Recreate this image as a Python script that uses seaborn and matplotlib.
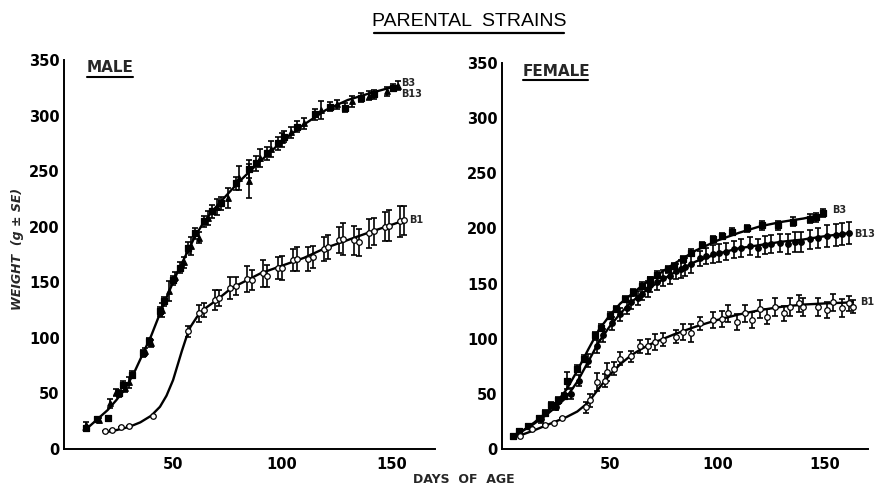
import numpy as np
import pandas as pd
import seaborn as sns
import matplotlib
matplotlib.use("Agg")
import matplotlib.pyplot as plt
from matplotlib.lines import Line2D

# ---------------- data ----------------
# MALE
male_b3_day = [10, 15, 20, 25, 27, 31, 36, 39, 44, 46, 50, 53, 57, 60, 64, 68, 72, 79, 85, 88, 93, 98, 101, 107, 115, 122, 129, 136, 142, 151]
male_b3_wt = [19, 27, 28, 50, 58, 67, 86, 97, 124, 133, 152, 163, 181, 194, 205, 214, 221, 239, 252, 257, 266, 275, 281, 290, 301, 308, 307, 316, 319, 325]
male_b3_se = [2, 2, 2, 3, 3, 3, 3, 3, 4, 4, 4, 5, 5, 5, 5, 6, 6, 6, 8, 7, 6, 6, 5, 5, 5, 4, 4, 4, 4, 3]

male_b13_day = [10, 16, 21, 24, 28, 30, 37, 40, 45, 48, 51, 55, 58, 62, 66, 70, 75, 80, 85, 90, 95, 100, 104, 110, 118, 125, 132, 140, 148, 153]
male_b13_wt = [22, 26, 41, 51, 55, 60, 88, 95, 125, 142, 155, 168, 183, 190, 208, 218, 226, 244, 241, 262, 270, 278, 285, 293, 305, 310, 313, 318, 322, 327]
male_b13_se = [2, 2, 4, 3, 4, 5, 3, 3, 6, 9, 4, 5, 8, 5, 6, 7, 9, 11, 15, 8, 7, 6, 5, 5, 8, 4, 5, 4, 4, 4]

male_b1_day = [19, 22, 26, 30, 41, 57, 62, 64, 69, 71, 76, 79, 84, 86, 91, 93, 98, 100, 105, 107, 112, 114, 119, 121, 126, 128, 133, 135, 140, 142, 147, 149, 154, 156]
male_b1_wt = [16, 17, 20, 21, 30, 106, 122, 125, 134, 136, 145, 147, 153, 152, 158, 156, 163, 163, 170, 171, 171, 173, 180, 182, 188, 189, 188, 186, 194, 196, 200, 201, 205, 206]
male_b1_se = [0, 0, 0, 0, 0, 5, 8, 6, 9, 7, 10, 8, 12, 9, 12, 10, 10, 11, 10, 11, 11, 10, 11, 11, 12, 14, 13, 12, 13, 12, 13, 14, 14, 13]

male_fit_b3_day = [9, 12, 16, 20, 24, 28, 32, 36, 40, 44, 48, 52, 56, 60, 64, 68, 72, 80, 90, 100, 110, 120, 130, 140, 153]
male_fit_b3_wt = [17, 21, 28, 35, 44, 54, 68, 85, 102, 122, 141, 159, 175, 191, 204, 214, 223, 240, 259, 277, 292, 305, 314, 320, 327]
male_fit_b1_day = [19, 24, 30, 35, 40, 44, 47, 50, 52, 54, 56, 58, 61, 65, 70, 75, 80, 90, 100, 110, 120, 130, 140, 155]
male_fit_b1_wt = [15, 17, 20, 24, 30, 38, 48, 62, 75, 88, 100, 110, 119, 127, 134, 142, 148, 158, 165, 172, 181, 188, 195, 205]

# FEMALE
fem_b3_day = [5, 8, 12, 17, 20, 23, 26, 29, 30, 35, 38, 43, 46, 50, 53, 57, 61, 65, 69, 72, 77, 80, 84, 88, 93, 98, 102, 107, 114, 121, 128, 135, 143, 146, 149]
fem_b3_wt = [12, 16, 21, 28, 33, 40, 44, 48, 62, 73, 82, 103, 110, 121, 127, 136, 142, 148, 153, 158, 163, 166, 172, 178, 185, 190, 193, 197, 200, 203, 203, 206, 209, 210, 214]
fem_b3_se = [2, 2, 2, 2, 2, 3, 3, 3, 8, 3, 3, 3, 3, 3, 3, 3, 3, 3, 3, 3, 3, 3, 3, 3, 3, 3, 3, 3, 3, 4, 4, 4, 4, 4, 4]

fem_b13_day = [8, 13, 18, 25, 32, 36, 40, 44, 47, 51, 55, 58, 60, 63, 65, 68, 69, 72, 75, 78, 81, 83, 85, 88, 92, 95, 98, 101, 104, 108, 111, 115, 119, 122, 125, 129, 133, 136, 139, 143, 147, 151, 155, 158, 161]
fem_b13_wt = [14, 20, 27, 38, 50, 62, 80, 93, 103, 114, 122, 128, 133, 137, 141, 145, 149, 151, 155, 157, 161, 163, 165, 168, 173, 175, 177, 178, 179, 181, 182, 184, 182, 185, 186, 187, 186, 188, 188, 190, 191, 193, 194, 195, 196]
fem_b13_se = [2, 2, 3, 3, 5, 5, 6, 6, 6, 6, 6, 6, 6, 6, 6, 7, 7, 7, 7, 7, 7, 8, 8, 8, 7, 7, 8, 8, 8, 8, 8, 8, 8, 8, 8, 8, 9, 9, 9, 9, 9, 10, 10, 10, 10]

fem_b1_day = [8.5, 14, 20, 24, 28, 39, 41, 44, 48, 49, 52, 55, 60, 64, 68, 71, 75, 81, 84, 88, 92, 98, 102, 105, 109, 113, 116, 120, 123, 127, 131, 134, 138, 140, 147, 151, 154, 158, 161, 163]
fem_b1_wt = [12, 18, 22, 24, 28, 38, 44, 61, 62, 70, 73, 82, 84, 93, 93, 97, 99, 102, 106, 105, 114, 117, 118, 123, 115, 123, 117, 127, 120, 129, 123, 129, 132, 129, 129, 126, 133, 128, 132, 129]
fem_b1_se = [0, 0, 0, 0, 0, 5, 6, 8, 6, 8, 6, 6, 5, 6, 7, 7, 6, 6, 7, 8, 6, 7, 7, 8, 7, 8, 7, 8, 7, 8, 7, 8, 8, 8, 8, 7, 8, 8, 7, 6]

fem_fit_b3_day = [5, 10, 15, 20, 25, 30, 35, 40, 45, 50, 55, 60, 65, 70, 80, 90, 100, 110, 120, 130, 140, 150]
fem_fit_b3_wt = [11, 17, 24, 32, 41, 54, 71, 90, 108, 121, 132, 140, 148, 155, 168, 180, 189, 196, 202, 206, 209, 213]
fem_fit_b13_day = [5, 10, 15, 20, 25, 30, 35, 40, 45, 50, 55, 60, 65, 70, 80, 90, 100, 110, 120, 130, 140, 150, 162]
fem_fit_b13_wt = [12, 17, 23, 30, 38, 47, 61, 79, 97, 111, 123, 133, 141, 148, 160, 170, 177, 182, 185, 188, 190, 193, 196]
fem_fit_b1_day = [8, 15, 20, 25, 30, 35, 40, 45, 50, 55, 60, 65, 70, 80, 90, 100, 110, 120, 130, 140, 150, 163]
fem_fit_b1_wt = [12, 17, 21, 25, 29, 34, 42, 55, 67, 77, 85, 91, 96, 104, 111, 117, 122, 126, 129, 131, 132, 133]

y_ticks = [0, 50, 100, 150, 200, 250, 300, 350]
x_ticks = [50, 100, 150]

# ---------------- style ----------------
sns.set_style("white")
plt.rcParams["font.family"] = ["DejaVu Sans"]
plt.rcParams["font.weight"] = "bold"

fig = plt.figure(figsize=(8.76, 4.86), dpi=100)
axL = fig.add_axes([0.0730, 0.0761, 0.4235, 0.8004])
axR = fig.add_axes([0.5730, 0.0761, 0.4178, 0.7942])

def series(ax, day, wt, se, marker, filled):
    df = pd.DataFrame({"day": day, "wt": wt})
    ax.errorbar(day, wt, yerr=se, fmt="none", ecolor="black", elinewidth=1.2,
                capsize=2.2, capthick=1.2, zorder=3)
    sns.scatterplot(data=df, x="day", y="wt", ax=ax, marker=marker, s=16,
                    color="black" if filled else "white", edgecolor="black",
                    linewidth=0.9, zorder=4, legend=False)

def fit(ax, day, wt):
    df = pd.DataFrame({"day": day, "wt": wt})
    sns.lineplot(data=df, x="day", y="wt", ax=ax, color="black", lw=1.7,
                 estimator=None, sort=True, zorder=2, legend=False)

# male panel
fit(axL, male_fit_b3_day, male_fit_b3_wt)
fit(axL, male_fit_b1_day, male_fit_b1_wt)
series(axL, male_b3_day, male_b3_wt, male_b3_se, "s", True)
series(axL, male_b13_day, male_b13_wt, male_b13_se, "^", True)
series(axL, male_b1_day, male_b1_wt, male_b1_se, "o", False)

# female panel
fit(axR, fem_fit_b3_day, fem_fit_b3_wt)
fit(axR, fem_fit_b13_day, fem_fit_b13_wt)
fit(axR, fem_fit_b1_day, fem_fit_b1_wt)
series(axR, fem_b3_day, fem_b3_wt, fem_b3_se, "s", True)
series(axR, fem_b13_day, fem_b13_wt, fem_b13_se, "o", True)
series(axR, fem_b1_day, fem_b1_wt, fem_b1_se, "o", False)

for ax in (axL, axR):
    ax.set_xlim(0, 170)
    ax.set_ylim(0, 350)
    ax.set_yticks(y_ticks)
    ax.set_yticklabels([str(v) for v in y_ticks])
    ax.set_xticks(x_ticks)
    ax.set_xticklabels([str(v) for v in x_ticks])
    ax.tick_params(direction="in", length=4, width=1.1, labelsize=10.5,
                   colors="black", pad=3)
    ax.tick_params(axis="x", pad=6)
    for lab in ax.get_xticklabels() + ax.get_yticklabels():
        lab.set_fontweight("bold")
    sns.despine(ax=ax)
    ax.spines["left"].set_linewidth(1.4)
    ax.spines["bottom"].set_linewidth(1.4)
    ax.spines["left"].set_color("black")
    ax.spines["bottom"].set_color("black")
    ax.set_xlabel("")
    ax.set_ylabel("")
    ax.patch.set_alpha(0)

# strain labels
lab_kw = dict(fontsize=7, fontweight="bold", ha="left", va="center")
axL.text(154.5, 329, "B3", **lab_kw)
axL.text(154.5, 319, "B13", **lab_kw)
axL.text(158, 206, "B1", **lab_kw)
axR.text(153.5, 217, "B3", **lab_kw)
axR.text(163.5, 195, "B13", **lab_kw)
axR.text(166.5, 133, "B1", **lab_kw)

# panel labels with underline
fig.text(87 / 876, 1 - 68 / 486, "MALE", fontsize=11, fontweight="bold",
         ha="left", va="center")
fig.add_artist(Line2D([87 / 876, 133 / 876], [1 - 77 / 486, 1 - 77 / 486],
                      color="black", lw=1.5))
fig.text(523 / 876, 1 - 71 / 486, "FEMALE", fontsize=11, fontweight="bold",
         ha="left", va="center")
fig.add_artist(Line2D([523 / 876, 588 / 876], [1 - 80 / 486, 1 - 80 / 486],
                      color="black", lw=1.5))

# title with underline
fig.text(469 / 876, 1 - 22 / 486, "PARENTAL  STRAINS", fontsize=14,
         fontweight="normal", family=["Liberation Sans", "DejaVu Sans"],
         color="black", ha="center", va="center")
fig.add_artist(Line2D([374 / 876, 564 / 876], [1 - 33 / 486, 1 - 33 / 486],
                      color="black", lw=1.6))

# axis labels
fig.text(464 / 876, 1 - 479 / 486, "DAYS  OF  AGE", fontsize=9, fontweight="bold",
         ha="center", va="center")
fig.text(18 / 876, 1 - 249 / 486, "WEIGHT  (g ± SE)", fontsize=9, fontweight="bold",
         style="italic", rotation=90, ha="center", va="center")

fig.savefig("out.png", dpi=100)
